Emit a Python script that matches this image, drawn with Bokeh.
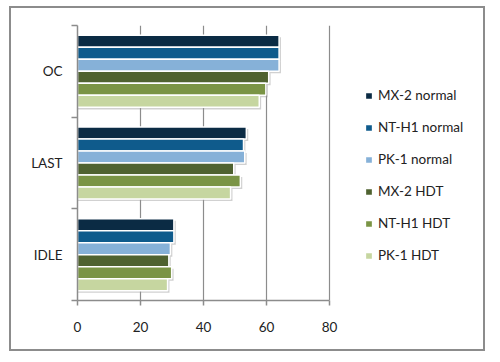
from bokeh.plotting import figure
from bokeh.models import (Range1d, LinearAxis, FixedTicker, ColumnDataSource, Legend, LegendItem)
from bokeh.transform import dodge
from bokeh.embed import file_html
from bokeh.resources import INLINE

categories = ["IDLE", "LAST", "OC"]
series = ["MX-2 normal", "NT-H1 normal", "PK-1 normal", "MX-2 HDT", "NT-H1 HDT", "PK-1 HDT"]
colors = ["#0b2b44", "#0f5b8c", "#86b1d8", "#4f6230", "#7a9445", "#c6d6a0"]
# values per series, ordered as categories (IDLE, LAST, OC)
mx2_normal = [30.6, 53.6, 64.0]
nth1_normal = [30.6, 52.7, 64.0]
pk1_normal = [29.5, 53.1, 64.0]
mx2_hdt = [29.0, 49.6, 60.7]
nth1_hdt = [29.9, 51.7, 59.8]
pk1_hdt = [28.6, 48.6, 57.7]
values = [mx2_normal, nth1_normal, pk1_normal, mx2_hdt, nth1_hdt, pk1_hdt]
x_ticks = [0, 20, 40, 60, 80]

FONT = "Lato"
GRAY = "#8c8c8c"

ncat = len(categories)
centers = [i + 0.5 for i in range(ncat)]

# frame widened so the legend (inside the frame) is not clipped; axis is bounded to 0..80
AXIS_PX = 252          # pixel length of the 0..80 axis
FRAME_PX = 408         # pixel width of the whole frame
x_end = x_ticks[-1] * FRAME_PX / AXIS_PX

p = figure(width=476, height=345, y_range=Range1d(0, ncat),
           x_range=Range1d(0, x_end), output_backend="svg", toolbar_location=None,
           x_axis_location=None, y_axis_location=None,
           min_border_left=66, min_border_right=2, min_border_top=17, min_border_bottom=53)
p.styles = {"border": "2px solid #8c8c8c", "margin-left": "9px", "margin-top": "6px"}
p.outline_line_color = None
p.ygrid.visible = False
p.xgrid.grid_line_color = GRAY
p.xgrid.grid_line_width = 1.2
p.xgrid.ticker = FixedTicker(ticks=x_ticks)

y_axis = LinearAxis(ticker=FixedTicker(ticks=centers, minor_ticks=list(range(ncat + 1))),
                    major_label_overrides={c: name for c, name in zip(centers, categories)},
                    major_tick_line_color=None, major_tick_out=0, major_tick_in=0,
                    minor_tick_out=6, minor_tick_in=0, minor_tick_line_color=GRAY,
                    minor_tick_line_width=1.5,
                    axis_line_color=GRAY, axis_line_width=1.5,
                    major_label_text_font=FONT, major_label_text_font_size="13.5px",
                    major_label_text_color="#222222", major_label_standoff=9)
p.add_layout(y_axis, "left")
x_axis = LinearAxis(ticker=FixedTicker(ticks=x_ticks), bounds=(x_ticks[0], x_ticks[-1]),
                    axis_line_color=GRAY, axis_line_width=1.5,
                    major_tick_line_color=GRAY, major_tick_line_width=1.5, major_tick_out=5,
                    major_tick_in=0, minor_tick_line_color=None,
                    major_label_text_font=FONT, major_label_text_font_size="13.5px",
                    major_label_text_color="#222222", major_label_standoff=16)
p.add_layout(x_axis, "below")

src = ColumnDataSource(dict(pos=centers, **{f"s{i}": v for i, v in enumerate(values)},
                            **{f"sh{i}": [x + 0.6 for x in v] for i, v in enumerate(values)}))

n = len(series)
step = 0.131
items = []
for i in range(n):
    off = (n - 1) / 2 * step - i * step
    p.hbar(y=dodge("pos", off - 0.022), right=f"sh{i}", height=step, left=0,
           source=src, fill_color="#9a9a9a", fill_alpha=0.45, line_color=None)
    r = p.hbar(y=dodge("pos", off), right=f"s{i}", height=step, left=0,
               source=src, fill_color=colors[i], line_color="white", line_width=1.5)
    items.append(LegendItem(label=series[i], renderers=[r]))

legend = Legend(items=items, location=(287, 37), orientation="vertical",
                glyph_width=9, glyph_height=9, label_height=14, spacing=16, label_standoff=5,
                padding=0, margin=0, border_line_color=None, background_fill_alpha=0,
                label_text_font=FONT, label_text_font_size="13.5px", label_text_color="#222222")
p.add_layout(legend, "center")

open("out.html", "w").write(file_html(p, INLINE))
